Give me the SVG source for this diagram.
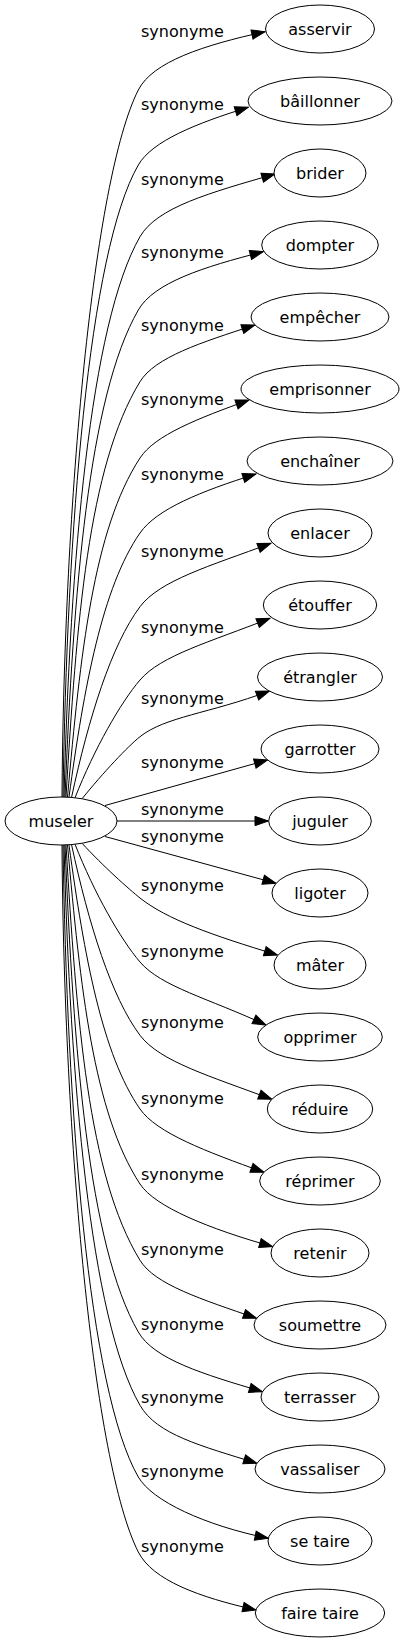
<svg xmlns="http://www.w3.org/2000/svg" width="404" height="1643" viewBox="0 0 404 1643">
<style>
.n ellipse{fill:#fff;stroke:#000;stroke-width:1}
text{font-family:"DejaVu Sans","Liberation Sans",sans-serif;font-size:16px;fill:#000;text-anchor:middle}
.e path{fill:none;stroke:#000;stroke-width:1;marker-end:url(#ah)}
</style>
<defs>
<marker id="ah" markerUnits="userSpaceOnUse" viewBox="-1 -1 15.3 11.33" markerWidth="15.3" markerHeight="11.33" refX="13.3" refY="4.67" orient="auto">
<path d="M0,0 L13.3,4.67 L0,9.33 z" fill="#000" stroke="#000" stroke-width="1"/>
</marker>
</defs>
<rect width="404" height="1643" fill="#fff"/>
<g id="edges" class="e">
<path d="M62,797 C64,500 93.3,179 138.3,90 C152.6,61.8 203.1,45.3 265,31.7"/>
<path d="M63,797 C67,532 88.3,252 138.3,165 C152.1,141.1 195.7,123.5 248.3,107.3"/>
<path d="M64,797 C70.2,561.7 90,323.7 140,236.7 C156.9,207.3 210.1,192.7 275,174"/>
<path d="M65,797 C73.4,592.5 88.3,397 138.3,310 C153.9,282.8 202.7,267.1 263.3,251.7"/>
<path d="M66,797 C76.5,622.6 88,466.7 140,381.7 C155,357.3 200.3,342.7 255,325"/>
<path d="M67.5,797 C80.3,654.6 93.4,529.2 140,458 C155,435.1 197.7,418.5 249,400"/>
<path d="M69,797 C84.1,686.1 102.4,587.1 140,533 C156.5,509.2 200.7,491.3 256,474"/>
<path d="M71.5,797.5 C88.8,717.4 111.4,644.9 140,606.7 C159.7,580.5 209.6,566 271,543.3"/>
<path d="M75,797.8 C94.5,748.3 120.8,702.4 140,680 C161.1,655.3 209.5,642.2 270,618.3"/>
<path d="M82,798.8 C103.1,772.7 127.9,746.3 140,736.7 C165.3,716.6 208.8,713.7 269.5,691"/>
<path d="M105,805.5 L267.6,760"/>
<path d="M117,821 L268.3,821"/>
<path d="M105,836.5 L276,883.3"/>
<path d="M82,843.2 C103.1,866.2 129.3,889.5 140,898 C166.8,919.3 211.7,935.1 277.5,955"/>
<path d="M75,844.2 C94.5,893.7 120.8,939.6 140,962 C161.1,986.7 208.9,998.5 266,1025"/>
<path d="M71.5,844.5 C88.8,924.6 111.4,997.1 140,1035.3 C159.7,1061.5 210.1,1076.1 271.8,1099.3"/>
<path d="M69,845 C84.1,955.9 102.4,1054.9 140,1109 C156.5,1132.8 205.6,1151.4 264,1172.3"/>
<path d="M67.5,845 C80.3,987.4 93.4,1112.8 140,1184 C155,1206.9 208.8,1228.7 272.7,1246.7"/>
<path d="M66,845 C76.5,1019.4 88,1175.3 140,1260.3 C155,1284.7 201.5,1299.2 256.6,1318.3"/>
<path d="M65,845 C73.4,1049.5 88.3,1245 138.3,1332 C153.9,1359.2 202.9,1374.1 262.5,1391.7"/>
<path d="M64,845 C70.2,1080.3 90,1318.3 140,1405.3 C156.9,1434.7 201.1,1445.8 256.9,1463.3"/>
<path d="M63,845 C67,1110 88.3,1390 138.3,1477 C152.1,1500.9 204.6,1525.3 268.3,1538.3"/>
<path d="M62,845 C64,1142 93.3,1463 138.3,1552 C152.6,1580.2 198.6,1597.1 256,1610"/>
</g>
<g id="edge-labels">
<text x="182.4" y="36.7">synonyme</text>
<text x="182.4" y="110">synonyme</text>
<text x="182.4" y="184.5">synonyme</text>
<text x="182.4" y="257.7">synonyme</text>
<text x="182.4" y="331">synonyme</text>
<text x="182.4" y="405">synonyme</text>
<text x="182.4" y="480">synonyme</text>
<text x="182.4" y="556.7">synonyme</text>
<text x="182.4" y="632.5">synonyme</text>
<text x="182.4" y="704">synonyme</text>
<text x="182.4" y="768">synonyme</text>
<text x="182.4" y="815">synonyme</text>
<text x="182.4" y="842">synonyme</text>
<text x="182.4" y="891">synonyme</text>
<text x="182.4" y="956.7">synonyme</text>
<text x="182.4" y="1028">synonyme</text>
<text x="182.4" y="1104">synonyme</text>
<text x="182.4" y="1180">synonyme</text>
<text x="182.4" y="1255">synonyme</text>
<text x="182.4" y="1330">synonyme</text>
<text x="182.4" y="1402.7">synonyme</text>
<text x="182.4" y="1476.7">synonyme</text>
<text x="182.4" y="1551.7">synonyme</text>
</g>
<g id="muselers" class="n"><ellipse cx="61" cy="821" rx="56" ry="24"/><text x="61" y="826.5">museler</text></g>
<g id="asservir" class="n"><ellipse cx="320" cy="29" rx="54.5" ry="24"/><text x="320" y="34.5">asservir</text></g>
<g id="baillonner" class="n"><ellipse cx="320" cy="101" rx="72" ry="24"/><text x="320" y="106.5">bâillonner</text></g>
<g id="brider" class="n"><ellipse cx="320" cy="173" rx="46" ry="24"/><text x="320" y="178.5">brider</text></g>
<g id="dompter" class="n"><ellipse cx="320" cy="245" rx="58.3" ry="24"/><text x="320" y="250.5">dompter</text></g>
<g id="empecher" class="n"><ellipse cx="320" cy="317" rx="69" ry="24"/><text x="320" y="322.5">empêcher</text></g>
<g id="emprisonner" class="n"><ellipse cx="320" cy="389" rx="79" ry="24"/><text x="320" y="394.5">emprisonner</text></g>
<g id="enchainer" class="n"><ellipse cx="320" cy="461" rx="73" ry="24"/><text x="320" y="466.5">enchaîner</text></g>
<g id="enlacer" class="n"><ellipse cx="320" cy="533" rx="52" ry="24"/><text x="320" y="538.5">enlacer</text></g>
<g id="etouffer" class="n"><ellipse cx="320" cy="605" rx="56.7" ry="24"/><text x="320" y="610.5">étouffer</text></g>
<g id="etrangler" class="n"><ellipse cx="320" cy="677" rx="62.5" ry="24"/><text x="320" y="682.5">étrangler</text></g>
<g id="garrotter" class="n"><ellipse cx="320" cy="749" rx="59" ry="24"/><text x="320" y="754.5">garrotter</text></g>
<g id="juguler" class="n"><ellipse cx="320" cy="821" rx="51.3" ry="24"/><text x="320" y="826.5">juguler</text></g>
<g id="ligoter" class="n"><ellipse cx="320" cy="893" rx="48" ry="24"/><text x="320" y="898.5">ligoter</text></g>
<g id="mater" class="n"><ellipse cx="320" cy="965" rx="46" ry="24"/><text x="320" y="970.5">mâter</text></g>
<g id="opprimer" class="n"><ellipse cx="320" cy="1037" rx="62.3" ry="24"/><text x="320" y="1042.5">opprimer</text></g>
<g id="reduire" class="n"><ellipse cx="320" cy="1109" rx="52.7" ry="24"/><text x="320" y="1114.5">réduire</text></g>
<g id="reprimer" class="n"><ellipse cx="320" cy="1181" rx="60.3" ry="24"/><text x="320" y="1186.5">réprimer</text></g>
<g id="retenir" class="n"><ellipse cx="320" cy="1253" rx="49" ry="24"/><text x="320" y="1258.5">retenir</text></g>
<g id="soumettre" class="n"><ellipse cx="320" cy="1325" rx="66" ry="24"/><text x="320" y="1330.5">soumettre</text></g>
<g id="terrasser" class="n"><ellipse cx="320" cy="1397" rx="59" ry="24"/><text x="320" y="1402.5">terrasser</text></g>
<g id="vassaliser" class="n"><ellipse cx="320" cy="1469" rx="65" ry="24"/><text x="320" y="1474.5">vassaliser</text></g>
<g id="se-taire" class="n"><ellipse cx="320" cy="1541" rx="52" ry="24"/><text x="320" y="1546.5">se taire</text></g>
<g id="faire-taire" class="n"><ellipse cx="320" cy="1613" rx="64.7" ry="24"/><text x="320" y="1618.5">faire taire</text></g>
</svg>
